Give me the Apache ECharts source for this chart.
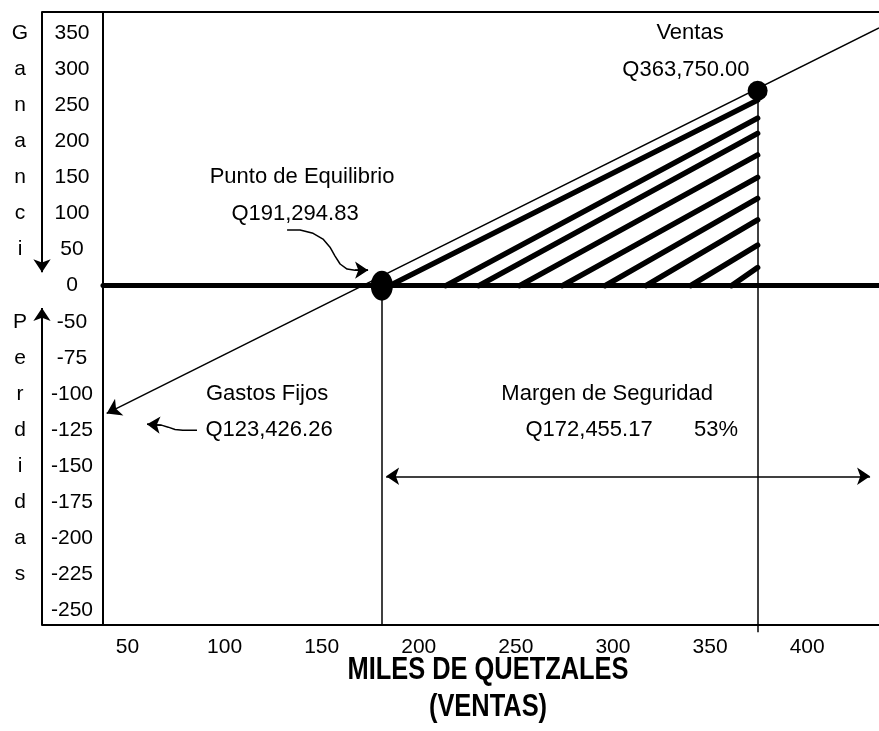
<!DOCTYPE html>
<html>
<head>
<meta charset="utf-8">
<title>Punto de Equilibrio</title>
<script src="https://cdn.jsdelivr.net/npm/echarts@6/dist/echarts.min.js"></script>
<style>
  html, body { margin: 0; padding: 0; background: #fff; }
  #chart { width: 879px; height: 731px; }
</style>
</head>
<body>
<div id="chart"></div>
<script>
// Etiquetas del eje vertical, de arriba hacia abajo (en el dibujo van a igual distancia)
const yTickValues = [350, 300, 250, 200, 150, 100, 50, 0, -50, -75, -100, -125, -150, -175, -200, -225, -250];
const xTickValues = [50, 100, 150, 200, 250, 300, 350, 400];
const gananciaLetters = ['G', 'a', 'n', 'a', 'n', 'c', 'i'];
const perdidasLetters = ['P', 'e', 'r', 'd', 'i', 'd', 'a', 's'];

// rango visible (miles de Q)
const xMin = 6, xMax = 437;
const yMin = -260, yMax = 379;
const axisInnerX = 37.4;

// linea de resultado
const resultadoX = [39.3, 437];
const resultadoY = [-113.5, 357];

// puntos
const equilibrioX = 181;
const ventasX = 374.5;
const ventasY = 270;
const ventasLineBottom = -265;

// rayado del margen de seguridad
const hatchStartX = [185, 214, 231, 252, 274, 296, 317, 340, 361];
const hatchEndY = [257, 232, 211, 181, 150, 121, 91, 56, 25];

// flechas de anotacion
const equilibrioArrowX = [132.2, 138.9, 145.6, 150.7, 154.3, 156.9, 159.5, 163.1, 167.2, 173.9];
const equilibrioArrowY = [77, 77, 72.5, 64.5, 53.3, 41, 30, 23, 21.4, 21.4];
const gastosArrowX = [85.8, 78.5, 74.5, 71.0, 67.5, 60.1];
const gastosArrowY = [-125.2, -125.2, -124.6, -123.0, -121.6, -121.0];
const margenArrowX = [183.2, 432.4];
const margenArrowY = [-157, -157];
const gananciaArrowY = [yMax, 18.5];
const perdidasArrowY = [yMin, -31];

// textos
const notas = [
  { text: 'Ventas', x: 339.7, y: 350 },
  { text: 'Q363,750.00', x: 337.6, y: 299 },
  { text: 'Punto de Equilibrio', x: 139.9, y: 150 },
  { text: 'Q191,294.83', x: 136.3, y: 100 },
  { text: 'Gastos Fijos', x: 121.9, y: -100 },
  { text: 'Q123,426.26', x: 122.9, y: -125 },
  { text: 'Margen de Seguridad', x: 297, y: -100 },
  { text: 'Q172,455.17', x: 287.7, y: -125 },
  { text: '53%', x: 353.1, y: -125 }
];

const FONT = "'Liberation Sans', Arial, sans-serif";

// el eje vertical no es lineal: cada etiqueta ocupa un "nivel"
const yAsc = yTickValues.slice().reverse();
function level(v) {
  let i = 0;
  while (i < yAsc.length - 2 && v > yAsc[i + 1]) i++;
  return i + (v - yAsc[i]) / (yAsc[i + 1] - yAsc[i]);
}
function pt(x, y) {
  return [x, level(y)];
}
function zip(xs, ys) {
  return xs.map((x, i) => pt(x, ys[i]));
}
// ultimo tramo de una curva, para ponerle la punta de flecha
function lastSegment(xs, ys) {
  const n = xs.length;
  return [pt(xs[n - 2], ys[n - 2]), pt(xs[n - 1], ys[n - 1])];
}

const sideLetters = {};
gananciaLetters.forEach((c, i) => { sideLetters[16 - i] = c; });
perdidasLetters.forEach((c, i) => { sideLetters[8 - i] = c; });

const chart = echarts.init(document.getElementById('chart'));

const black = '#000';

const option = {
  animation: false,
  backgroundColor: '#fff',
  textStyle: { fontFamily: FONT },
  grid: {
    left: 42, right: 0, top: 12, bottom: 106,
    outerBoundsMode: 'none'
  },
  xAxis: [
    {
      type: 'value',
      min: xMin,
      max: xMax,
      position: 'bottom',
      axisLine: { onZero: false, lineStyle: { color: black, width: 2 } },
      axisTick: { show: false },
      splitLine: { show: false },
      axisLabel: {
        customValues: xTickValues,
        color: black,
        fontSize: 21,
        fontFamily: FONT,
        margin: 12
      }
    },
    {
      type: 'value',
      min: xMin,
      max: xMax,
      position: 'top',
      axisLine: { onZero: false, lineStyle: { color: black, width: 2 } },
      axisTick: { show: false },
      splitLine: { show: false },
      axisLabel: { show: false }
    }
  ],
  yAxis: [
    {
      type: 'value',
      min: level(yMin),
      max: level(yMax),
      position: 'left',
      axisLine: { show: false },
      axisTick: { show: false },
      splitLine: { show: false },
      axisLabel: {
        inside: true,
        margin: 30,
        align: 'center',
        verticalAlign: 'middle',
        customValues: yTickValues.map((_, i) => i),
        formatter: (v) => String(yAsc[Math.round(v)]),
        color: black,
        fontSize: 21,
        fontFamily: FONT
      }
    },
    {
      type: 'value',
      min: level(yMin),
      max: level(yMax),
      position: 'left',
      axisLine: { show: false },
      axisTick: { show: false },
      splitLine: { show: false },
      axisLabel: {
        margin: 22,
        align: 'center',
        verticalAlign: 'middle',
        customValues: Object.keys(sideLetters).map(Number),
        formatter: (v) => sideLetters[Math.round(v)] || '',
        color: black,
        fontSize: 21,
        fontFamily: FONT
      }
    }
  ],
  series: [
    {
      // eje interior, linea de cero y vertical del equilibrio
      type: 'lines',
      coordinateSystem: 'cartesian2d',
      symbol: 'none',
      lineStyle: { color: black, width: 2, opacity: 1 },
      data: [
        { coords: [pt(axisInnerX, yMin), pt(axisInnerX, yMax)] },
        { coords: [pt(axisInnerX, 0), pt(xMax, 0)], lineStyle: { width: 5, cap: 'round' } },
        { coords: [pt(equilibrioX, 0), pt(equilibrioX, yMin)], lineStyle: { width: 1.5 } }
      ],
      z: 3
    },
    {
      // vertical de ventas (baja un poco bajo el eje)
      type: 'lines',
      coordinateSystem: 'cartesian2d',
      clip: false,
      symbol: 'none',
      lineStyle: { color: black, width: 1.5, opacity: 1 },
      data: [{ coords: [pt(ventasX, ventasY), pt(ventasX, ventasLineBottom)] }],
      z: 3
    },
    {
      // flechas del lado izquierdo
      type: 'lines',
      coordinateSystem: 'cartesian2d',
      clip: false,
      symbol: ['none', 'arrow'],
      symbolSize: 13,
      lineStyle: { color: black, width: 2, opacity: 1 },
      data: [
        { coords: [pt(xMin, gananciaArrowY[0]), pt(xMin, gananciaArrowY[1])] },
        { coords: [pt(xMin, perdidasArrowY[0]), pt(xMin, perdidasArrowY[1])] }
      ]
    },
    {
      // rayado del margen de seguridad
      type: 'lines',
      coordinateSystem: 'cartesian2d',
      symbol: 'none',
      lineStyle: { color: black, width: 5.5, cap: 'round', opacity: 1 },
      data: hatchStartX.map((x, i) => ({ coords: [pt(x, 0), pt(ventasX, hatchEndY[i])] })),
      z: 3
    },
    {
      // linea de ventas
      type: 'lines',
      coordinateSystem: 'cartesian2d',
      symbol: ['arrow', 'none'],
      symbolSize: 14,
      lineStyle: { color: black, width: 1.5, opacity: 1 },
      data: [{ coords: zip(resultadoX, resultadoY) }],
      z: 4
    },
    {
      // curvas de las notas
      type: 'lines',
      coordinateSystem: 'cartesian2d',
      polyline: true,
      lineStyle: { color: black, width: 1.5, opacity: 1, join: 'round' },
      data: [
        { coords: zip(equilibrioArrowX, equilibrioArrowY) },
        { coords: zip(gastosArrowX, gastosArrowY) }
      ],
      z: 4
    },
    {
      // puntas de flecha de las notas
      type: 'lines',
      coordinateSystem: 'cartesian2d',
      symbol: ['none', 'arrow'],
      symbolSize: 13,
      lineStyle: { color: black, width: 1.5, opacity: 1 },
      data: [
        { coords: lastSegment(equilibrioArrowX, equilibrioArrowY) },
        { coords: lastSegment(gastosArrowX, gastosArrowY) }
      ],
      z: 4
    },
    {
      // margen de seguridad
      type: 'lines',
      coordinateSystem: 'cartesian2d',
      symbol: ['arrow', 'arrow'],
      symbolSize: 13,
      lineStyle: { color: black, width: 1.5, opacity: 1 },
      data: [{ coords: zip(margenArrowX, margenArrowY) }],
      z: 4
    },
    {
      // puntos de equilibrio y de ventas
      type: 'scatter',
      symbol: 'circle',
      itemStyle: { color: black, opacity: 1 },
      data: [
        { value: pt(equilibrioX, 0), symbolSize: [22, 30] },
        { value: pt(ventasX, ventasY), symbolSize: 20 }
      ],
      z: 5
    },
    {
      type: 'scatter',
      symbolSize: 0,
      silent: true,
      itemStyle: { opacity: 1 },
      label: {
        show: true,
        position: 'inside',
        formatter: (p) => p.name,
        color: black,
        opacity: 1,
        fontSize: 22,
        fontFamily: FONT
      },
      data: notas.map((n) => ({ name: n.text, value: pt(n.x, n.y) })),
      z: 6
    }
  ],
  graphic: [
    {
      type: 'text',
      x: 488,
      y: 652,
      scaleX: 0.82,
      style: {
        text: 'MILES DE QUETZALES\n(VENTAS)',
        align: 'center',
        verticalAlign: 'top',
        fontFamily: FONT,
        fontWeight: 'bold',
        fontSize: 31,
        lineHeight: 37,
        fill: black
      }
    }
  ]
};

chart.setOption(option);
window.addEventListener('resize', () => chart.resize());
</script>
</body>
</html>
